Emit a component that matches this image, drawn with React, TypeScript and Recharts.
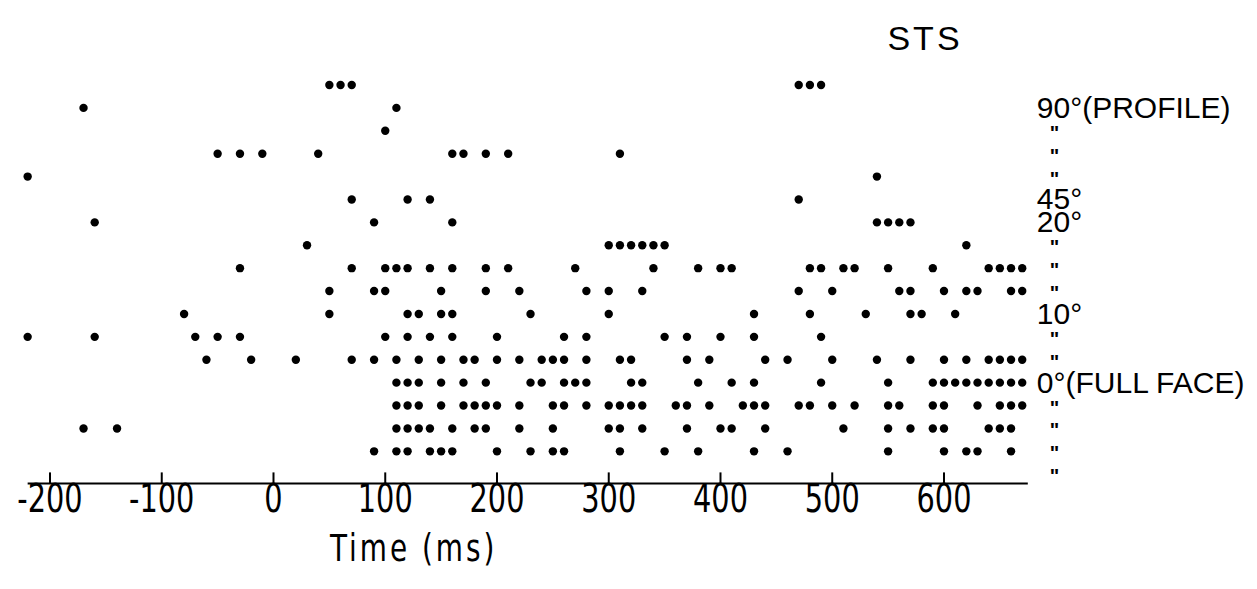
import React from 'react';
import { ScatterChart, Scatter, XAxis, YAxis } from 'recharts';

// spike times (ms) per trial row, top row first
const row00 = [50, 60, 70, 470, 480, 490];
const row01 = [-170, 110];
const row02 = [100];
const row03 = [-50, -30, -10, 40, 160, 170, 190, 210, 310];
const row04 = [-220, 540];
const row05 = [70, 120, 140, 470];
const row06 = [-160, 90, 160, 540, 550, 560, 570];
const row07 = [30, 300, 310, 320, 330, 340, 350, 620];
const row08 = [-30, 70, 100, 110, 120, 140, 160, 190, 210, 270, 340, 380, 400, 410, 480, 490, 510, 520, 550, 590, 640, 650, 660, 670];
const row09 = [50, 90, 100, 150, 190, 220, 280, 300, 330, 470, 500, 560, 570, 600, 620, 630, 660, 670];
const row10 = [-80, 50, 120, 130, 150, 160, 230, 300, 430, 480, 530, 570, 580, 610];
const row11 = [-220, -160, -70, -50, -30, 100, 120, 140, 160, 200, 260, 280, 350, 370, 400, 430, 490];
const row12 = [-60, -20, 20, 70, 90, 110, 130, 150, 170, 180, 200, 220, 240, 250, 260, 280, 310, 320, 370, 390, 440, 460, 500, 540, 570, 600, 620, 640, 650, 660, 670];
const row13 = [110, 120, 130, 150, 170, 190, 230, 240, 260, 270, 280, 320, 330, 380, 410, 430, 490, 550, 590, 600, 610, 620, 630, 640, 650, 660, 670];
const row14 = [110, 120, 130, 150, 170, 180, 190, 200, 220, 250, 260, 280, 300, 310, 320, 330, 360, 370, 390, 420, 430, 440, 470, 480, 500, 520, 550, 560, 590, 600, 630, 650, 660, 670];
const row15 = [-170, -140, 110, 120, 130, 140, 160, 180, 190, 220, 250, 300, 310, 330, 370, 400, 410, 440, 510, 550, 570, 590, 600, 640, 650, 660];
const row16 = [90, 110, 120, 140, 150, 160, 200, 230, 250, 260, 310, 350, 380, 430, 460, 550, 600, 620, 630, 660];

const rows = [row00, row01, row02, row03, row04, row05, row06, row07, row08, row09, row10, row11, row12, row13, row14, row15, row16];

const timeTicks = [-200, -100, 0, 100, 200, 300, 400, 500, 600];

// head angle labels on the right, one per row starting at row 1
const angleLabels = ['90°(PROFILE)', '"', '"', '"', '45°', '20°', '"', '"', '"', '10°', '"', '"', '0°(FULL FACE)', '"', '"', '"', '"'];
const angleTicks = angleLabels.map((_, i) => i + 1);

const spikes = rows.flatMap((times, row) => times.map((t) => ({ t, row })));

const narrow = "'DejaVu Sans Condensed', 'Liberation Sans Narrow', sans-serif";
const sans = "'Liberation Sans', 'DejaVu Sans', sans-serif";

const TimeTick = (props: any) => {
  const { x, y, payload } = props;
  const ty = y + 29;
  return (
    <g>
      <line x1={x} x2={x} y1={y} y2={y - 11} stroke="#000" strokeWidth={2} />
      <text
        x={x}
        y={ty}
        textAnchor="middle"
        fontFamily={narrow}
        fontSize={32}
        fill="#000"
        transform={`translate(${x} ${ty}) scale(1 1.2) translate(${-x} ${-ty})`}
      >
        {payload.value}
      </text>
    </g>
  );
};

const AngleTick = (props: any) => {
  const { x, y, payload } = props;
  const label = angleLabels[payload.value - 1];
  if (label === '"') {
    return (
      <text x={x + 5} y={y + 9} fontFamily={sans} fontWeight="bold" fontSize={20} fill="#000">
        {label}
      </text>
    );
  }
  return (
    <text x={x - 8} y={y + 10} fontFamily={sans} fontSize={30} fill="#000">
      {label}
    </text>
  );
};

const Dot = (props: any) => <circle cx={props.cx} cy={props.cy} r={4.2} fill="#000" />;

export default function App() {
  return (
    <div style={{ position: 'absolute', left: 0, top: 0, width: 1257, height: 589, background: '#fff' }}>
      <ScatterChart width={1257} height={589} margin={{ top: 62.1, right: 0, bottom: 45.6, left: 27.65 }}>
        <XAxis
          type="number"
          dataKey="t"
          domain={[-220, 675]}
          ticks={timeTicks}
          height={60}
          tickLine={false}
          tickSize={0}
          tickMargin={0}
          tick={<TimeTick />}
          axisLine={{ stroke: '#000', strokeWidth: 2 }}
        />
        <YAxis
          type="number"
          dataKey="row"
          orientation="right"
          reversed
          domain={[-1, 17.4]}
          ticks={angleTicks}
          width={229.2}
          axisLine={false}
          tickLine={false}
          tickSize={0}
          tickMargin={17}
          tick={<AngleTick />}
          interval={0}
        />
        <Scatter data={spikes} shape={<Dot />} isAnimationActive={false} />
      </ScatterChart>
      <svg width={1257} height={589} style={{ position: 'absolute', left: 0, top: 0, pointerEvents: 'none' }}>
        <text x={925} y={50} textAnchor="middle" fontFamily={sans} fontSize={34} letterSpacing={3} fill="#000">
          STS
        </text>
        <text
          x={330}
          y={561}
          fontFamily={narrow}
          fontSize={31}
          letterSpacing={3}
          fill="#000"
          transform="translate(330 561) scale(1 1.2) translate(-330 -561)"
        >
          Time (ms)
        </text>
      </svg>
    </div>
  );
}
